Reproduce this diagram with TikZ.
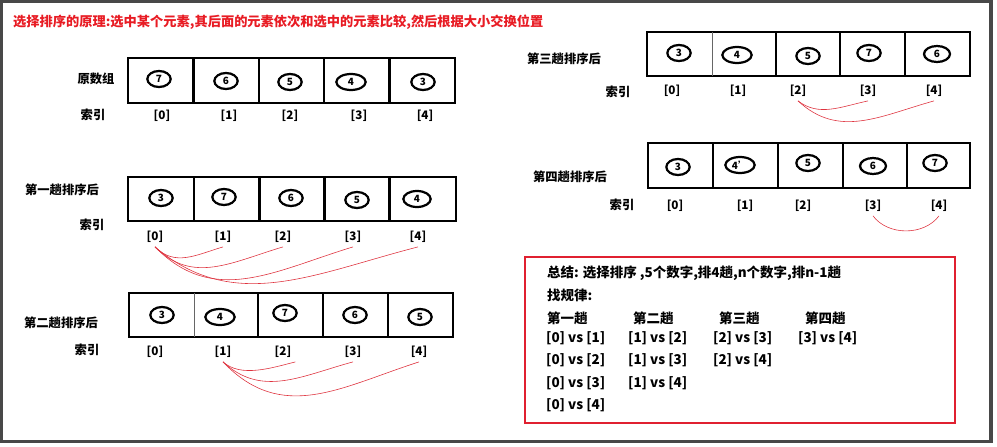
\documentclass[tikz,border=0pt]{standalone}
\usepackage{fontspec}
\setmainfont{Noto Sans CJK SC}
\usepackage{tikz}
\usetikzlibrary{shapes.geometric}

\definecolor{titlered}{RGB}{232,28,36}
\definecolor{boxred}{RGB}{224,32,48}
\definecolor{linkred}{RGB}{222,50,62}
\definecolor{framegray}{RGB}{72,72,72}

\tikzset{
	headtext/.style={anchor=west,text=titlered,font=\bfseries\fontsize{11.3}{13}\selectfont},
	lbl/.style={font=\bfseries\fontsize{10.5}{12}\selectfont},
	idx/.style={font=\bfseries\fontsize{10}{12}\selectfont},
	numring/.style={draw,ellipse,line width=1.9pt,inner sep=0pt,minimum width=0.7cm,minimum height=0.48cm,font=\bfseries\fontsize{8.5}{9}\selectfont},
	cellbox/.style={line width=2.4pt},
	thincell/.style={line width=0.6pt,black!60},
	linkline/.style={linkred,line width=0.5pt},
	sumtext/.style={anchor=west,font=\bfseries\fontsize{11.5}{13}\selectfont}
}

\begin{document}
\begin{tikzpicture}[x=0.03cm,y=-0.03cm]
		\useasboundingbox (0,0) rectangle (997,447);
		\draw [framegray] [line width=2.6pt] (1.5,1.5) rectangle (991,441.5);
		\node [headtext] (title) at (9,22) {选择排序的原理:选中某个元素,其后面的元素依次和选中的元素比较,然后根据大小交换位置};
		
		% 原数组
		\draw [cellbox] (128,58) rectangle (455,103);
		\draw [cellbox] (193.5,58) -- (193.5,103) (259,58) -- (259,103) (324,58) -- (324,103) (389.5,58) -- (389.5,103);
		\node [lbl] (a1lbl) at (96,79) {原数组};
		\node [lbl] (a1key) at (93,115) {索引};
		\node [numring] (a1n0) at (159,79) {7};
		\node [numring] (a1n1) at (226,81) {6};
		\node [numring] (a1n2) at (290,82) {5};
		\node [numring,minimum width=0.88cm] (a1n3) at (351,82) {4};
		\node [numring] (a1n4) at (423,82) {3};
		\node [idx] (a1i0) at (162,116) {[0]};
		\node [idx] (a1i1) at (229,116) {[1]};
		\node [idx] (a1i2) at (290,116) {[2]};
		\node [idx] (a1i3) at (359,116) {[3]};
		\node [idx] (a1i4) at (425,116) {[4]};
		
		% 第一趟
		\draw [cellbox] (128,177) rectangle (456,221);
		\draw [cellbox] (194,177) -- (194,221) (259.5,177) -- (259.5,221) (324.5,177) -- (324.5,221) (389.5,177) -- (389.5,221);
		\node [lbl] (a2lbl) at (62,190) {第一趟排序后};
		\node [lbl] (a2key) at (92,225) {索引};
		\node [numring] (a2n0) at (161,198) {3};
		\node [numring] (a2n1) at (224,197) {7};
		\node [numring] (a2n2) at (291,198) {6};
		\node [numring] (a2n3) at (357,200) {5};
		\node [numring,minimum width=0.82cm] (a2n4) at (417,199) {4};
		\node [idx] (a2i0) at (155,237) {[0]};
		\node [idx] (a2i1) at (223,237) {[1]};
		\node [idx] (a2i2) at (283,237) {[2]};
		\node [idx] (a2i3) at (353,237) {[3]};
		\node [idx] (a2i4) at (418,237) {[4]};
		\draw [linkline] (a2i0.south) .. controls +(20,20) and +(-27,8) .. (a2i1.south);
		\draw [linkline] (a2i0.south) .. controls +(38,38) and +(-51,15) .. (a2i2.south);
		\draw [linkline] (a2i0.south) .. controls +(59,60) and +(-79,24) .. (a2i3.south);
		\draw [linkline] (a2i0.south) .. controls +(79,67) and +(-105,27) .. (a2i4.south);
		
		% 第二趟
		\draw [cellbox] (129,293) rectangle (453,337);
		\draw [thincell] (194,293) -- (194,337);
		\draw [cellbox] (258,293) -- (258,337) (323,293) -- (323,337) (388,293) -- (388,337);
		\node [lbl] (a3lbl) at (61,323) {第二趟排序后};
		\node [lbl] (a3key) at (87,350) {索引};
		\node [numring] (a3n0) at (162,315) {3};
		\node [numring,minimum width=0.88cm] (a3n1) at (220,317) {4};
		\node [numring] (a3n2) at (285,313) {7};
		\node [numring] (a3n3) at (355,315) {6};
		\node [numring] (a3n4) at (420,317) {5};
		\node [idx] (a3i0) at (155,352) {[0]};
		\node [idx] (a3i1) at (223,352) {[1]};
		\node [idx] (a3i2) at (283,352) {[2]};
		\node [idx] (a3i3) at (353,352) {[3]};
		\node [idx] (a3i4) at (419,352) {[4]};
		\draw [linkline] (a3i1.south) .. controls +(18,16) and +(-24,6) .. (a3i2.south east);
		\draw [linkline] (a3i1.south) .. controls +(39,36) and +(-52,14) .. (a3i3.south);
		\draw [linkline] (a3i1.south) .. controls +(59,62) and +(-78,25) .. (a3i4.south);
		
		% 第三趟
		\draw [cellbox] (647,32) rectangle (970,76);
		\draw [thincell] (712,32) -- (712,76);
		\draw [cellbox] (776,32) -- (776,76) (840,32) -- (840,76) (905,32) -- (905,76);
		\node [lbl] (a4lbl) at (564,59) {第三趟排序后};
		\node [lbl] (a4key) at (618,92) {索引};
		\node [numring] (a4n0) at (679,53) {3};
		\node [numring,minimum width=0.88cm] (a4n1) at (737,55) {4};
		\node [numring] (a4n2) at (808,56) {5};
		\node [numring] (a4n3) at (869,53) {7};
		\node [numring,minimum width=0.78cm] (a4n4) at (937,54) {6};
		\node [idx] (a4i0) at (672,91) {[0]};
		\node [idx] (a4i1) at (738,91) {[1]};
		\node [idx] (a4i2) at (798,91) {[2]};
		\node [idx] (a4i3) at (868,91) {[3]};
		\node [idx] (a4i4) at (934,91) {[4]};
		\draw [linkline] (a4i2.south) .. controls +(21,16) and +(-28,6) .. (a4i3.south);
		\draw [linkline] (a4i2.south) .. controls +(41,38) and +(-54,15) .. (a4i4.south);
		
		% 第四趟
		\draw [cellbox] (648,143) rectangle (970,188);
		\draw [cellbox] (713,143) -- (713,188) (778,143) -- (778,188) (843,143) -- (843,188) (907,143) -- (907,188);
		\node [lbl] (a5lbl) at (570,177) {第四趟排序后};
		\node [lbl] (a5key) at (622,205) {索引};
		\node [numring] (a5n0) at (678,167) {3};
		\node [numring,minimum width=0.88cm] (a5n1) at (740,165) {4'};
		\node [numring] (a5n2) at (808,163) {5};
		\node [numring,minimum width=0.78cm] (a5n3) at (873,166) {6};
		\node [numring] (a5n4) at (935,163) {7};
		\node [idx] (a5i0) at (675,206) {[0]};
		\node [idx] (a5i1) at (745,206) {[1]};
		\node [idx] (a5i2) at (803,206) {[2]};
		\node [idx] (a5i3) at (873,206) {[3]};
		\node [idx] (a5i4) at (939,206) {[4]};
		\draw [linkline] (a5i3.south) .. controls +(15,20) and +(-15,20) .. (a5i4.south);
		
		% 总结
		\draw [boxred] [line width=1.6pt] (525,257) rectangle (955,423);
		\node [sumtext] (sum) at (543,273) {总结: 选择排序 ,5个数字,排4趟,n个数字,排n-1趟};
		\node [sumtext] (rule) at (543,295) {找规律:};
		\node [sumtext] (h1) at (543,318) {第一趟};
		\node [sumtext] (h2) at (629,318) {第二趟};
		\node [sumtext] (h3) at (715,318) {第三趟};
		\node [sumtext] (h4) at (801,318) {第四趟};
		\node [sumtext] (c11) at (542,338) {[0] vs [1]};
		\node [sumtext] (c12) at (542,360) {[0] vs [2]};
		\node [sumtext] (c13) at (542,383) {[0] vs [3]};
		\node [sumtext] (c14) at (542,405) {[0] vs [4]};
		\node [sumtext] (c21) at (624,338) {[1] vs [2]};
		\node [sumtext] (c22) at (624,360) {[1] vs [3]};
		\node [sumtext] (c23) at (624,383) {[1] vs [4]};
		\node [sumtext] (c31) at (709,338) {[2] vs [3]};
		\node [sumtext] (c32) at (709,360) {[2] vs [4]};
		\node [sumtext] (c41) at (794,338) {[3] vs [4]};
		
	\end{tikzpicture}
\end{document}
